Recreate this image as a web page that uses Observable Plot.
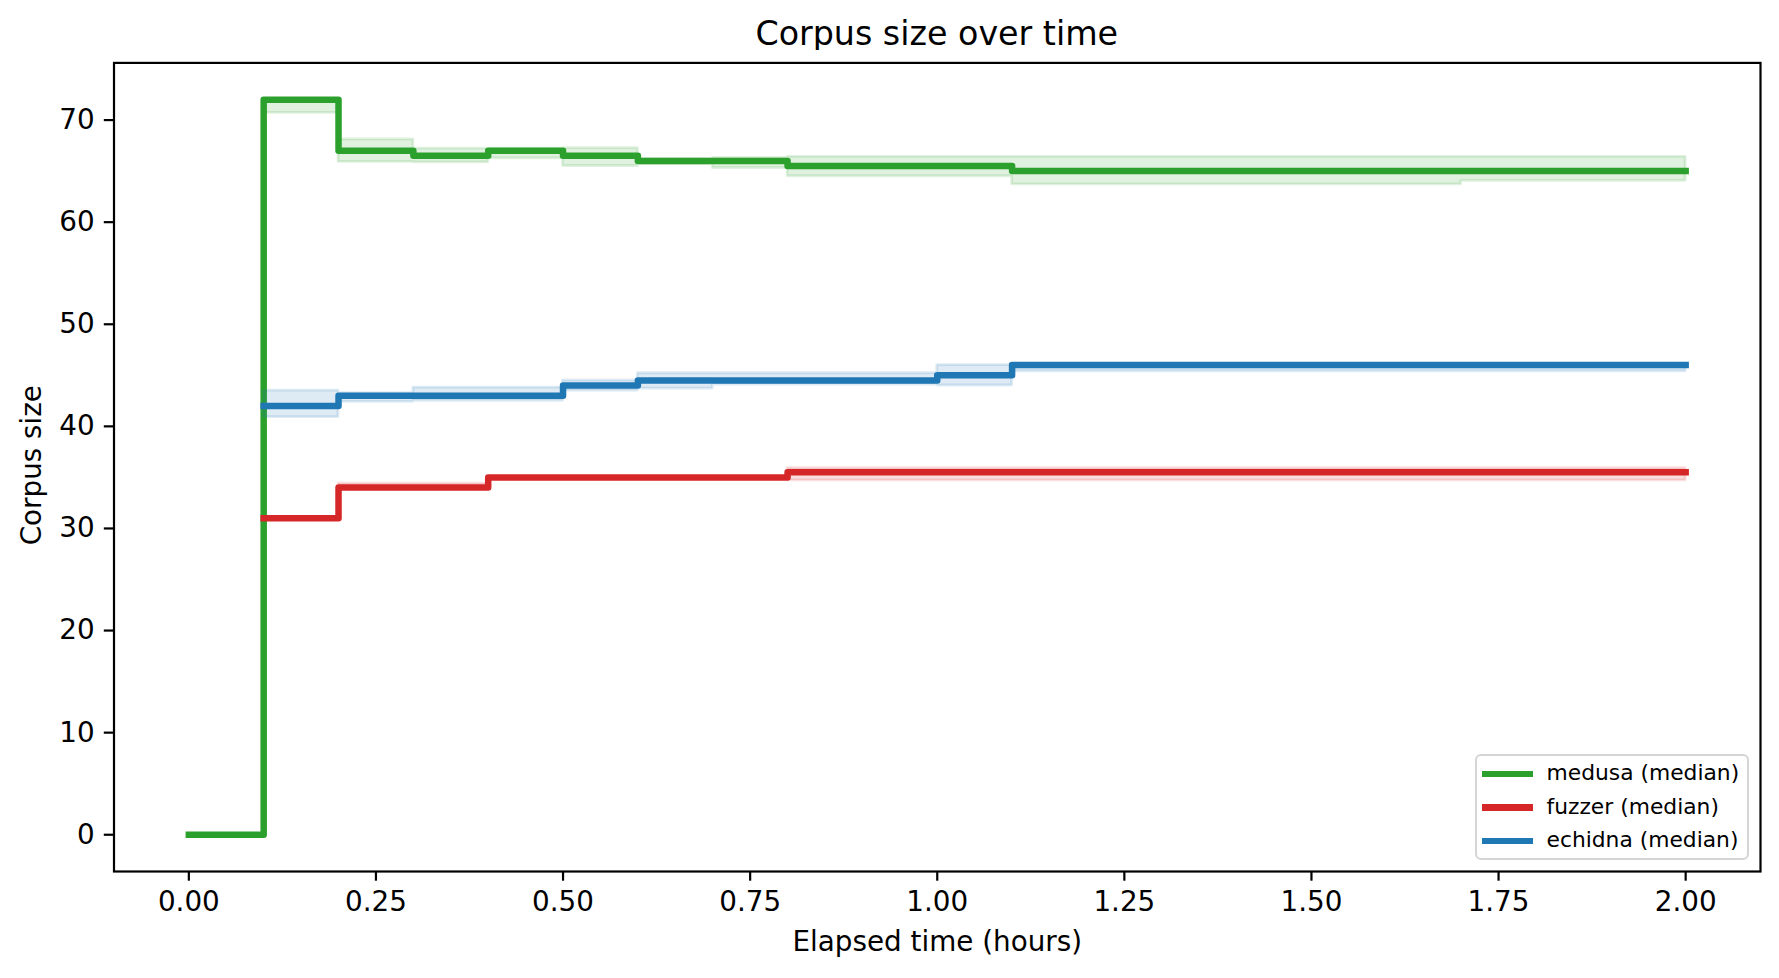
<!DOCTYPE html>
<html>
<head>
<meta charset="utf-8">
<script src="https://cdn.jsdelivr.net/npm/d3@7"></script>
<script src="https://cdn.jsdelivr.net/npm/@observablehq/plot@0.6"></script>
<style>
  body { margin: 0; background: #fff; }
  #wrap { position: relative; width: 1779px; height: 978px; font-family: "DejaVu Sans", sans-serif; color: #000; }
  #title { position: absolute; left: 113.5px; width: 1646.5px; top: 14px; height: 40px; line-height: 40px; text-align: center; font-size: 33.3px; }
  #chart { position: absolute; left: 0; top: 50px; }
  #legend { position: absolute; left: 1474.5px; top: 754px; width: 270px; height: 102px; border: 2px solid #d5d5d5; border-radius: 6px; background: rgba(255,255,255,0.8); }
  .lg-line { position: absolute; left: 5px; width: 51px; height: 6.5px; }
  .lg-text { position: absolute; left: 70px; font-size: 21.8px; line-height: 24px; height: 24px; white-space: nowrap; }
</style>
</head>
<body>
<div id="wrap">
  <div id="title">Corpus size over time</div>
  <div id="chart"></div>
  <div id="legend"></div>
</div>
<script>
// ---- data ----
const times = [0.0, 0.1, 0.2, 0.3, 0.4, 0.5, 0.6, 0.7, 0.8, 0.9, 1.0, 1.1, 1.2, 1.3, 1.4, 1.5, 1.6, 1.7, 1.8, 1.9, 2.0];

const seriesNames = ["medusa (median)", "fuzzer (median)", "echidna (median)"];
const seriesColors = ["#2ca02c", "#d62728", "#1f77b4"];

const medusaMedian = [0, 72, 67, 66.5, 67, 66.5, 66, 66, 65.5, 65.5, 65.5, 65, 65, 65, 65, 65, 65, 65, 65, 65, 65];
const medusaLow    = [null, 70.7, 65.9, 65.85, 66.25, 65.5, 65.7, 65.3, 64.5, 64.5, 64.5, 63.7, 63.7, 63.7, 63.7, 63.7, 63.7, 64.05, 64.05, 64.05, 64.05];
const medusaHigh   = [null, 72, 68.1, 67.2, 67.2, 67.25, 66.2, 66.3, 66.4, 66.4, 66.4, 66.4, 66.4, 66.4, 66.4, 66.4, 66.4, 66.4, 66.4, 66.4, 66.4];

const fuzzerMedian = [null, 31, 34, 34, 35, 35, 35, 35, 35.5, 35.5, 35.5, 35.5, 35.5, 35.5, 35.5, 35.5, 35.5, 35.5, 35.5, 35.5, 35.5];
const fuzzerLow    = [null, 31, 34, 34, 35, 35, 35, 35, 34.7, 34.7, 34.7, 34.7, 34.7, 34.7, 34.7, 34.7, 34.7, 34.7, 34.7, 34.7, 34.7];
const fuzzerHigh   = [null, 31, 34.4, 34.4, 35, 35, 35, 35, 35.9, 35.9, 35.9, 35.9, 35.9, 35.9, 35.9, 35.9, 35.9, 35.9, 35.9, 35.9, 35.9];

const echidnaMedian = [null, 42, 43, 43, 43, 44, 44.5, 44.5, 44.5, 44.5, 45, 46, 46, 46, 46, 46, 46, 46, 46, 46, 46];
const echidnaLow    = [null, 40.9, 42.4, 42.5, 42.5, 43.5, 43.7, 44.1, 44.1, 44.1, 44.0, 45.4, 45.4, 45.4, 45.4, 45.4, 45.4, 45.4, 45.4, 45.4, 45.4];
const echidnaHigh   = [null, 43.5, 43.25, 43.8, 43.8, 44.5, 45.2, 45.2, 45.2, 45.2, 46.0, 46.1, 46.1, 46.1, 46.1, 46.1, 46.1, 46.1, 46.1, 46.1, 46.1];

const xTicks = [0, 0.25, 0.5, 0.75, 1.0, 1.25, 1.5, 1.75, 2.0];
const yTicks = [0, 10, 20, 30, 40, 50, 60, 70];

const seriesData = [
  [medusaMedian, medusaLow, medusaHigh],
  [fuzzerMedian, fuzzerLow, fuzzerHigh],
  [echidnaMedian, echidnaLow, echidnaHigh]
];

const tables = seriesData.map(([med, lo, hi], s) =>
  times.map((t, i) => ({ t, series: seriesNames[s], median: med[i], low: lo[i], high: hi[i] }))
);

const marks = [];
tables.forEach((rows, s) => {
  const c = seriesColors[s];
  marks.push(Plot.areaY(rows, {
    x: "t", y1: "low", y2: "high", curve: "step-after",
    fill: c, fillOpacity: 0.15, stroke: c, strokeOpacity: 0.15, strokeWidth: 2.8
  }));
  marks.push(Plot.lineY(rows, {
    x: "t", y: "median", curve: "step-after",
    stroke: c, strokeWidth: 6.5, strokeLinejoin: "round", strokeLinecap: "square"
  }));
});

const chart = Plot.plot({
  width: 1779,
  height: 928,
  marginLeft: 113.5,
  marginRight: 19,
  marginTop: 12.4,
  marginBottom: 107,
  style: { fontFamily: "DejaVu Sans, sans-serif", fontSize: "27.8px", background: "white", color: "black" },
  x: { domain: [-0.1, 2.1] },
  y: { domain: [-3.6, 75.6] },
  marks: [
    ...marks,
    Plot.axisX({ ticks: xTicks, tickFormat: d3.format(".2f"), tickSize: 9.7, tickPadding: 9.7, strokeWidth: 2.2, label: null }),
    Plot.axisY({ ticks: yTicks, tickSize: 9.7, tickPadding: 9.7, strokeWidth: 2.2, label: null }),
    Plot.text(["Elapsed time (hours)"], { frameAnchor: "bottom", dy: 71, lineAnchor: "middle", textAnchor: "middle", fontSize: 27.8 }),
    Plot.text(["Corpus size"], { frameAnchor: "left", dx: -81.5, dy: -2, rotate: -90, lineAnchor: "middle", textAnchor: "middle", fontSize: 27.8 }),
    Plot.frame({ stroke: "black", strokeWidth: 2.2 })
  ]
});
document.getElementById("chart").appendChild(chart);

// legend
const legend = d3.select("#legend");
const rowCenters = [18, 51.7, 85];
seriesNames.forEach((name, i) => {
  legend.append("div").attr("class", "lg-line")
    .style("top", (rowCenters[i] - 3.25) + "px")
    .style("background", seriesColors[i]);
  legend.append("div").attr("class", "lg-text")
    .style("top", (rowCenters[i] - 13) + "px")
    .text(name);
});
</script>
</body>
</html>
